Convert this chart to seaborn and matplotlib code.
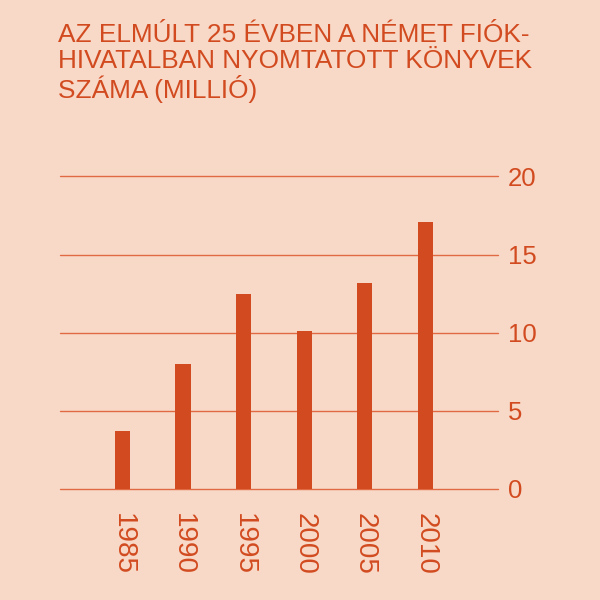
import matplotlib

matplotlib.use("Agg")
import matplotlib.pyplot as plt
import pandas as pd
import seaborn as sns

YEARS = ["1985", "1990", "1995", "2000", "2005", "2010"]
BOOKS_MILLION = [3.7, 8.0, 12.5, 10.1, 13.2, 17.1]
Y_TICKS = [0, 5, 10, 15, 20]
TITLE = "AZ ELMÚLT 25 ÉVBEN A NÉMET FIÓK-\nHIVATALBAN NYOMTATOTT KÖNYVEK\nSZÁMA (MILLIÓ)"

BG = "#F8D9C7"
ORANGE = "#D24B20"
GRID = "#E06A44"


def main() -> None:
    sns.set_style("white", {"axes.facecolor": BG, "figure.facecolor": BG})
    plt.rcParams["font.family"] = ["Liberation Sans", "DejaVu Sans"]

    frame = pd.DataFrame({"year": YEARS, "books": BOOKS_MILLION})

    fig = plt.figure(figsize=(6, 6), dpi=100)
    ax = fig.add_axes([0.1, 0.185, 0.73, 0.521])
    sns.barplot(data=frame, x="year", y="books", color=ORANGE, saturation=1,
                width=0.25, linewidth=0, ax=ax, zorder=3)

    ax.set_xlim(-1.03, 6.2)
    ax.set_ylim(0, 20)
    ax.set_yticks(Y_TICKS)
    ax.yaxis.tick_right()
    ax.grid(False)
    for tick in Y_TICKS:
        ax.axhline(tick, color=GRID, linewidth=1.0, zorder=1, clip_on=False)
    for spine in ax.spines.values():
        spine.set_visible(False)

    ax.tick_params(axis="y", length=0, pad=7, labelsize=18.5, labelcolor=ORANGE)
    ax.tick_params(axis="x", length=0, pad=17, labelsize=20, labelcolor=ORANGE)
    for label in ax.get_xticklabels():
        label.set_rotation(270)
        label.set_va("top")
        label.set_ha("center")
    ax.set_xlabel("")
    ax.set_ylabel("")

    fig.text(0.097, 0.962, TITLE, color=ORANGE, fontsize=18.9, va="top",
             ha="left", linespacing=1.1)

    fig.savefig("out.png", dpi=100, facecolor=BG)
    plt.close(fig)


if __name__ == "__main__":
    main()
